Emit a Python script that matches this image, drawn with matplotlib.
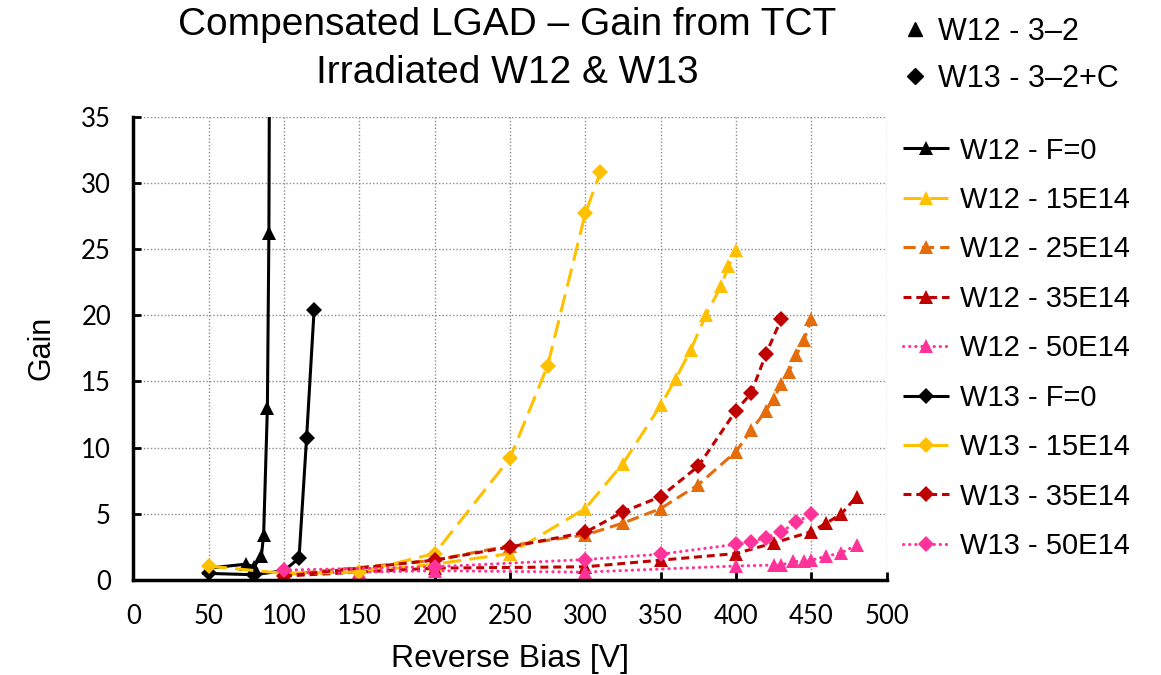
import matplotlib
matplotlib.use("Agg")
import matplotlib.pyplot as plt
from matplotlib.lines import Line2D
from matplotlib import font_manager

# ---------------- data ----------------
w12_f0_v = [50, 75, 80, 85, 86.5, 89, 90, 91]
w12_f0_g = [0.9, 1.2, 1.0, 1.8, 3.4, 13.0, 26.2, 60.0]

w12_15_v = [100, 150, 200, 250, 300, 325, 350, 360, 370, 380, 390, 395, 400]
w12_15_g = [0.5, 0.6, 1.2, 2.0, 5.4, 8.8, 13.2, 15.2, 17.4, 20.0, 22.2, 23.7, 24.9]

w12_25_v = [100, 200, 250, 300, 325, 350, 375, 400, 410, 420, 425, 430, 435, 440, 445, 450]
w12_25_g = [0.4, 1.5, 2.6, 3.4, 4.3, 5.4, 7.2, 9.7, 11.3, 12.8, 13.7, 14.8, 15.7, 17.0, 18.1, 19.7]

w12_35_v = [100, 200, 300, 350, 400, 425, 450, 460, 470, 480]
w12_35_g = [0.3, 0.9, 1.0, 1.5, 2.0, 2.8, 3.65, 4.3, 5.0, 6.3]

w12_50_v = [100, 150, 200, 300, 400, 425, 430, 438, 445, 450, 460, 470, 480]
w12_50_g = [0.5, 0.6, 0.7, 0.6, 1.06, 1.13, 1.13, 1.4, 1.4, 1.5, 1.8, 2.06, 2.64]

w13_f0_v = [50, 80, 100, 110, 115, 120]
w13_f0_g = [0.5, 0.4, 0.7, 1.65, 10.7, 20.4]

w13_15_v = [50, 100, 150, 200, 250, 275, 300, 310]
w13_15_g = [1.05, 0.5, 0.6, 2.0, 9.2, 16.2, 27.7, 30.8]

w13_35_v = [100, 200, 250, 300, 325, 350, 375, 400, 410, 420, 430]
w13_35_g = [0.3, 1.5, 2.5, 3.6, 5.15, 6.3, 8.6, 12.8, 14.1, 17.1, 19.7]

w13_50_v = [100, 200, 300, 350, 400, 410, 420, 430, 440, 450]
w13_50_g = [0.75, 1.0, 1.55, 1.95, 2.7, 2.9, 3.2, 3.65, 4.35, 5.0]

labels = ["W12 - F=0", "W12 - 15E14", "W12 - 25E14", "W12 - 35E14", "W12 - 50E14",
          "W13 - F=0", "W13 - 15E14", "W13 - 35E14", "W13 - 50E14"]
x_ticks = [0, 50, 100, 150, 200, 250, 300, 350, 400, 450, 500]
y_ticks = [0, 5, 10, 15, 20, 25, 30, 35]

# ---------------- styles ----------------
BLACK = "#000000"
YELLOW = "#FFC000"
ORANGE = "#E46C0A"
RED = "#C00000"
PINK = "#FF3399"

avail = {f.name for f in font_manager.fontManager.ttflist}
MAIN = "Liberation Sans" if "Liberation Sans" in avail else "DejaVu Sans"
TICKF = "Lato" if "Lato" in avail else MAIN

plt.rcParams["font.family"] = [MAIN, "DejaVu Sans"]

fig = plt.figure(figsize=(11.61, 6.75), dpi=100)
ax = fig.add_axes([0.1148, 0.1407, 0.7637 - 0.1148, 0.8271 - 0.1407])

lw = 2.2
series = [
    (w12_f0_v, w12_f0_g, BLACK, "^", (0, ()), 10),
    (w12_15_v, w12_15_g, YELLOW, "^", (0, (6, 2.7)), 10),
    (w12_25_v, w12_25_g, ORANGE, "^", (0, (4, 2)), 10),
    (w12_35_v, w12_35_g, RED, "^", (0, (2.6, 1.6)), 10),
    (w12_50_v, w12_50_g, PINK, "^", (0, (0.1, 1.9)), 10),
    (w13_f0_v, w13_f0_g, BLACK, "D", (0, ()), 8.5),
    (w13_15_v, w13_15_g, YELLOW, "D", (0, (6, 2.7)), 8.5),
    (w13_35_v, w13_35_g, RED, "D", (0, (2.6, 1.6)), 8.5),
    (w13_50_v, w13_50_g, PINK, "D", (0, (0.1, 1.9)), 8.5),
]

handles = []
for (v, g, c, m, ls, ms), lab in zip(series, labels):
    h, = ax.plot(v, g, color=c, marker=m, markersize=ms, linestyle=ls, linewidth=lw,
                 markeredgewidth=0, dash_capstyle="round" if ls[1] and ls[1][0] < 0.5 else "butt",
                 label=lab, zorder=3)
    handles.append(h)

ax.set_xlim(0, 500)
ax.set_ylim(0, 35)
ax.set_xticks(x_ticks)
ax.set_yticks(y_ticks)
ax.grid(True, color="#8c8c8c", linestyle=(0, (1, 1.5)), linewidth=1.0, zorder=0)
ax.set_axisbelow(True)
for s in ["top", "right"]:
    ax.spines[s].set_visible(False)
for s in ["left", "bottom"]:
    ax.spines[s].set_linewidth(2.5)
    ax.spines[s].set_zorder(5)
ax.tick_params(axis="both", direction="in", length=6, width=2, labelsize=18.5)
ax.tick_params(axis="y", pad=16)
ax.tick_params(axis="x", pad=17)
for t in ax.get_xticklabels() + ax.get_yticklabels():
    t.set_fontfamily(TICKF)

ax.set_xlabel("Reverse Bias [V]", fontsize=23, labelpad=11)
ax.set_ylabel("Gain", fontsize=22, labelpad=18)

fig.text(0.437, 0.99, "Compensated LGAD \u2013 Gain from TCT\nIrradiated W12 & W13",
         ha="center", va="top", fontsize=28, linespacing=1.42)

leg = fig.legend(handles=handles, loc="upper left", bbox_to_anchor=(0.768, 0.815),
                 frameon=False, fontsize=21, handlelength=1.55, handletextpad=0.4,
                 labelspacing=0.735, borderaxespad=0)

top_handles = [Line2D([], [], color=BLACK, marker="^", linestyle="none", markersize=10),
               Line2D([], [], color=BLACK, marker="D", linestyle="none", markersize=8.5)]
fig.legend(handles=top_handles, labels=["W12 - 3\u20132", "W13 - 3\u20132+C"],
           loc="upper left", bbox_to_anchor=(0.767, 0.993), frameon=False, fontsize=22,
           handlelength=0.8, handletextpad=0.35, labelspacing=0.55, borderaxespad=0)

fig.savefig("out.png", dpi=100)
